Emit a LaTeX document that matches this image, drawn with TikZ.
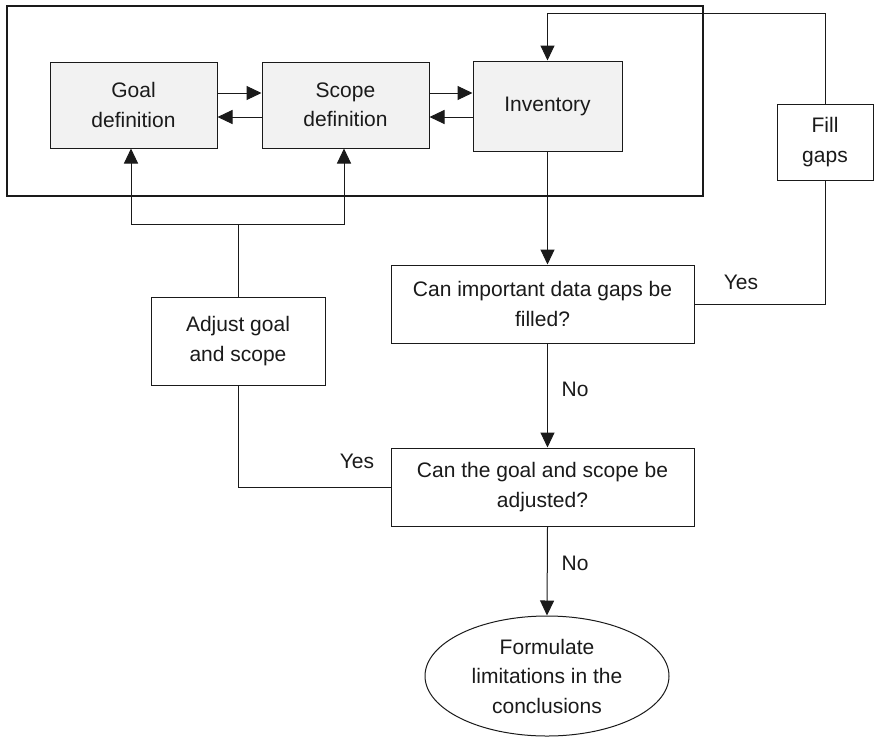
\documentclass[tikz,border=0pt]{standalone}
\usepackage{fontspec}
\setmainfont{Liberation Sans}
\usetikzlibrary{arrows.meta,shapes.geometric}
\definecolor{ink}{HTML}{1A1A1A}
\definecolor{boxgray}{HTML}{F2F2F2}
\begin{document}
\begin{tikzpicture}[x=1pt,y=-1pt,
  every node/.style={font=\fontsize{21}{29.5}\selectfont, text=ink, align=center},
  box/.style={draw=ink, line width=1pt, inner sep=0pt, rectangle},
  graybox/.style={box, fill=boxgray},
  frame/.style={draw=ink, line width=2.8pt, inner sep=0pt, rectangle},
  conn/.style={draw=ink, line width=1pt},
  arr/.style={conn, -{Triangle[length=15pt,width=14pt]}},
  lbl/.style={inner sep=0pt}
]
\useasboundingbox (0,0) rectangle (874,736);
\node[frame, minimum width=696pt, minimum height=190pt] (frame) at (355,101) {};
\node[graybox, minimum width=167pt, minimum height=86pt] (goal) at (133.5,105) {Goal\\definition};
\node[graybox, minimum width=167pt, minimum height=86pt] (scope) at (345.5,105) {Scope\\definition};
\node[graybox, minimum width=149pt, minimum height=90pt] (inv) at (547.5,106) {Inventory};
\node[box, fill=white, minimum width=96pt, minimum height=76pt] (fill) at (825,142) {Fill\\gaps};
\node[box, fill=white, minimum width=174pt, minimum height=88pt] (adj) at (238,341) {Adjust goal\\and scope};
\node[box, fill=white, minimum width=303pt, minimum height=78pt] (q1) at (542.5,304) {Can important data gaps be\\filled?};
\node[box, fill=white, minimum width=303pt, minimum height=78pt] (q2) at (542.5,487) {Can the goal and scope be\\adjusted?};
\node[draw=ink, line width=1pt, ellipse, inner sep=0pt, minimum width=244pt, minimum height=120pt] (end) at (547,676) {Formulate\\limitations in the\\conclusions};

\coordinate (br) at (238,224);
\coordinate (top) at (825,13);

% arrows between top boxes
\draw[arr] ([yshift=12pt]goal.east) -- ([yshift=12pt]scope.west);
\draw[arr] ([yshift=-12pt]scope.west) -- ([yshift=-12pt]goal.east);
\draw[arr] ([yshift=12pt]scope.east) -- ([yshift=12pt]scope.east -| inv.west);
\draw[arr] ([yshift=-12pt]scope.east -| inv.west) -- ([yshift=-12pt]scope.east);

% main flow
\draw[arr] (inv.south) -- (inv.south |- q1.north);
\draw[arr] (inv.south |- q1.south) -- (inv.south |- q2.north);
\draw[arr] (inv.south |- q2.south) -- (end.north);

% fill gaps loop
\draw[conn] (q1.east) -| (fill.south);
\draw[arr] (fill.north) -- (top) -| (inv.north);

% adjust loop
\draw[conn] (q2.west) -| (adj.south);
\draw[conn] (adj.north) -- (br);
\draw[arr] (br) -| ([xshift=-2.5pt]goal.south);
\draw[arr] (br) -| ([xshift=-1.5pt]scope.south);

% labels
\node[lbl] (y1) at (741,282) {Yes};
\node[lbl] (y2) at (357,461) {Yes};
\node[lbl] (n1) at (575,389) {No};
\node[lbl] (n2) at (575,563) {No};
\end{tikzpicture}
\end{document}
